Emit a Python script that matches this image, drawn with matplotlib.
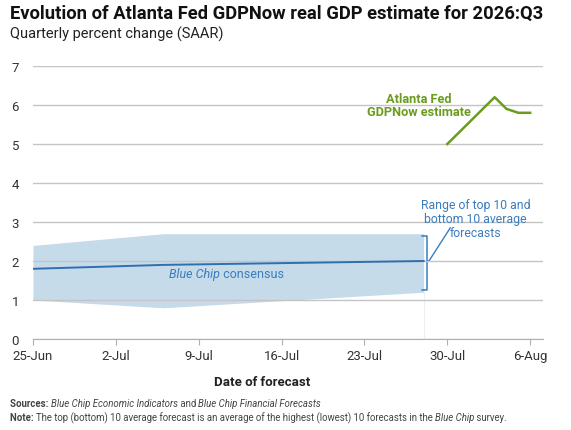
import datetime as dt
import matplotlib.pyplot as plt
import matplotlib.dates as mdates
from matplotlib.transforms import offset_copy

# Blue Chip survey points
bc_dates = [dt.date(2026, 6, 25), dt.date(2026, 7, 6), dt.date(2026, 7, 28)]
bc_top10 = [2.4, 2.7, 2.7]
bc_bottom10 = [1.0, 0.8, 1.2]
bc_consensus = [1.8, 1.9, 2.0]

# GDPNow estimates
gdpnow_dates = [dt.date(2026, 7, 30), dt.date(2026, 8, 3), dt.date(2026, 8, 4),
                dt.date(2026, 8, 5), dt.date(2026, 8, 6)]
gdpnow = [5.0, 6.2, 5.9, 5.8, 5.8]

tick_dates = [dt.date(2026, 6, 25), dt.date(2026, 7, 2), dt.date(2026, 7, 9),
              dt.date(2026, 7, 16), dt.date(2026, 7, 23), dt.date(2026, 7, 30),
              dt.date(2026, 8, 6)]
tick_labels = ["25-Jun", "2-Jul", "9-Jul", "16-Jul", "23-Jul", "30-Jul", "6-Aug"]

plt.rcParams['font.family'] = ['Roboto', 'DejaVu Sans']

blue = '#3a7dbd'
band = '#c5dbea'
green = '#6b9c1e'

fig = plt.figure(figsize=(5.71, 4.31), dpi=100)
ax = fig.add_axes([33 / 571, 1 - 340 / 431, 510 / 571, 273 / 431])
renderer = fig.canvas.get_renderer()


def runs(x, y, parts, transform, **kw):
    # draw pieces of text one after another, each with its own style
    t = transform
    for txt, style in parts:
        obj = fig.text(x, y, txt, transform=t, **kw, **style)
        obj.draw(renderer)
        w = obj.get_window_extent(renderer).width
        t = offset_copy(obj.get_transform(), fig=fig, x=w, units='dots')


ax.fill_between(bc_dates, bc_bottom10, bc_top10, color=band, lw=0, zorder=1)
ax.plot(bc_dates, bc_consensus, color='#2f6fae', lw=1.4, zorder=3)
ax.plot(gdpnow_dates, gdpnow, color=green, lw=1.8, zorder=3)

# faint marker where the survey ends
ax.plot([bc_dates[-1], bc_dates[-1]], [0, bc_bottom10[-1]], color='#eeeeee', lw=0.8, zorder=0)

ax.set_ylim(0, 7)
ax.set_xlim(dt.date(2026, 6, 25), dt.datetime(2026, 8, 7, 2))
ax.set_yticks(range(0, 8))
ax.set_xticks(tick_dates)
ax.set_xticklabels(tick_labels)
ax.grid(axis='y', color='#c4c4c4', lw=1, zorder=2)
ax.set_axisbelow(False)
for s in ['left', 'right', 'top']:
    ax.spines[s].set_visible(False)
ax.spines['bottom'].set_color('#b0b0b0')
ax.tick_params(axis='x', colors='#b0b0b0', labelcolor='#333333', length=4, labelsize=9.5, pad=3)
ax.tick_params(axis='y', length=0, labelcolor='#333333', labelsize=9.5, pad=10)

x0 = mdates.date2num(dt.date(2026, 6, 25))

# bracket for the range
bx = mdates.date2num(dt.datetime(2026, 7, 28, 6))
bw = 0.35
ax.plot([bx - bw, bx, bx, bx - bw], [2.63, 2.63, 1.25, 1.25], color=blue, lw=1.1, clip_on=False)
ax.plot([bx, bx + 0.2, bx + 2.0], [2.0, 2.0, 2.85], color=blue, lw=1.0, clip_on=False)
ax.text(x0 + 37.4, 3.1,
        "Range of top 10 and\nbottom 10 average\nforecasts", color=blue,
        fontsize=8.8, ha='center', va='center', linespacing=1.1)

ax.text(x0 + 32.6, 6.0, "Atlanta Fed\nGDPNow estimate",
        color=green, fontsize=9.2, fontweight='bold', ha='center', va='center', linespacing=1.05)

fig.text(10 / 571, 1 - 14 / 431, "Evolution of Atlanta Fed GDPNow real GDP estimate for 2026:Q3",
         fontsize=13.2, fontweight='bold', color='#111111', va='center')
fig.text(10 / 571, 1 - 34 / 431, "Quarterly percent change (SAAR)", fontsize=10.5,
         color='#222222', va='center')
fig.text(262 / 571, 1 - 383 / 431, "Date of forecast", fontsize=9.5, fontweight='bold',
         color='#222222', ha='center', va='center')

runs(x0 + 11.5, 1.68, [("Blue Chip", {'style': 'italic'}), (" consensus", {})],
     ax.transData, fontsize=9, color=blue, va='center')

note_kw = dict(fontsize=6.9, color='#444444', va='center')
runs(10 / 571, 1 - 404 / 431,
     [("Sources: ", {'fontweight': 'bold'}),
      ("Blue Chip Economic Indicators", {'style': 'italic'}),
      (" and ", {}),
      ("Blue Chip Financial Forecasts", {'style': 'italic'})],
     fig.transFigure, **note_kw)
runs(10 / 571, 1 - 418 / 431,
     [("Note: ", {'fontweight': 'bold'}),
      ("The top (bottom) 10 average forecast is an average of the highest (lowest) 10 forecasts in the ", {}),
      ("Blue Chip", {'style': 'italic'}),
      (" survey.", {})],
     fig.transFigure, **note_kw)

plt.savefig('out.png', dpi=100)
